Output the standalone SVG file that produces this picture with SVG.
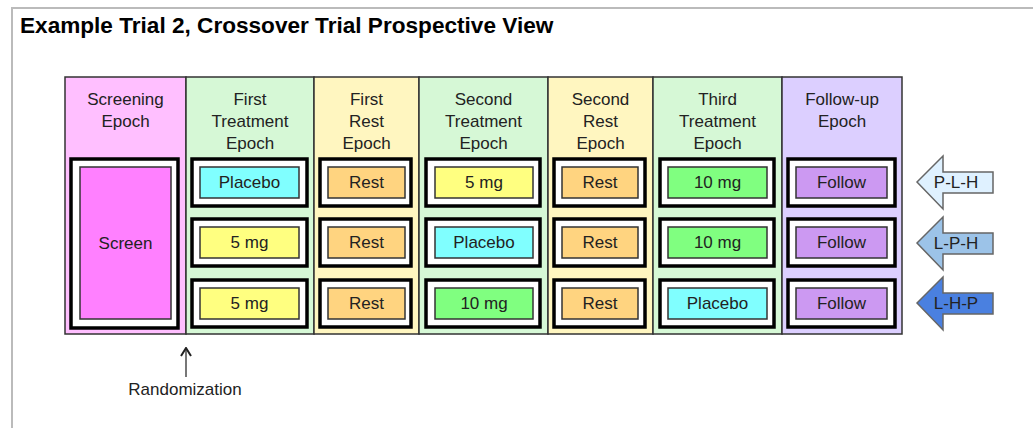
<svg xmlns="http://www.w3.org/2000/svg" width="1033" height="428" viewBox="0 0 1033 428">
<defs>
<style>
.t{font-family:"Liberation Sans",Arial,sans-serif;font-size:17px;fill:#222;text-anchor:middle}
.title{font-family:"Liberation Sans",Arial,sans-serif;font-size:22.6px;font-weight:bold;fill:#000}
.col{stroke:#333;stroke-width:1.5}
.ob{fill:#fff;stroke:#000;stroke-width:3.5}
.ib{stroke:#333;stroke-width:1.5}
.pl{fill:#80ffff}.m5{fill:#ffff80}.m10{fill:#80ff80}.rs{fill:#ffd480}.fw{fill:#cc99f2}
.ar{stroke:#666;stroke-width:1.5}
</style>
<marker id="ah" viewBox="0 0 10 12" refX="9" refY="6" markerWidth="10" markerHeight="12" markerUnits="userSpaceOnUse" orient="auto">
<path d="M1,1 L9,6 L1,11" fill="none" stroke="#222" stroke-width="2"/>
</marker>
</defs>
<rect width="1033" height="428" fill="#fff"/>
<path d="M12,428 V8 H1033" fill="none" stroke="#bbb" stroke-width="2"/>
<text class="title" x="20" y="33">Example Trial 2, Crossover Trial Prospective View</text>

<g id="columns">
<rect class="col" x="65" y="77" width="121" height="257" fill="#ffbfff"/>
<rect class="col" x="186" y="77" width="128" height="257" fill="#d6f8d6"/>
<rect class="col" x="314" y="77" width="105" height="257" fill="#fff6c0"/>
<rect class="col" x="419" y="77" width="129" height="257" fill="#d6f8d6"/>
<rect class="col" x="548" y="77" width="105" height="257" fill="#fff6c0"/>
<rect class="col" x="653" y="77" width="129" height="257" fill="#d6f8d6"/>
<rect class="col" x="782" y="77" width="120" height="257" fill="#dccfff"/>
</g>

<g id="headers">
<text class="t" x="125.5" y="105">Screening</text><text class="t" x="125.5" y="127">Epoch</text>
<text class="t" x="250" y="105">First</text><text class="t" x="250" y="127">Treatment</text><text class="t" x="250" y="149">Epoch</text>
<text class="t" x="366.5" y="105">First</text><text class="t" x="366.5" y="127">Rest</text><text class="t" x="366.5" y="149">Epoch</text>
<text class="t" x="483.5" y="105">Second</text><text class="t" x="483.5" y="127">Treatment</text><text class="t" x="483.5" y="149">Epoch</text>
<text class="t" x="600.5" y="105">Second</text><text class="t" x="600.5" y="127">Rest</text><text class="t" x="600.5" y="149">Epoch</text>
<text class="t" x="717.5" y="105">Third</text><text class="t" x="717.5" y="127">Treatment</text><text class="t" x="717.5" y="149">Epoch</text>
<text class="t" x="842" y="105">Follow-up</text><text class="t" x="842" y="127">Epoch</text>
</g>

<g id="screen">
<rect class="ob" x="71" y="159" width="107" height="169"/>
<rect class="ib" x="80" y="167" width="91" height="152" fill="#ff80ff"/>
<text class="t" x="125.5" y="249">Screen</text>
</g>

<g id="row1">
<g id="r1c1"><rect class="ob" x="192" y="159" width="115" height="47"/><rect class="ib pl" x="200" y="167" width="99" height="31"/><text class="t" x="249.5" y="188">Placebo</text></g>
<g id="r1c2"><rect class="ob" x="320" y="159" width="91" height="47"/><rect class="ib rs" x="328" y="167" width="77" height="31"/><text class="t" x="366.5" y="188">Rest</text></g>
<g id="r1c3"><rect class="ob" x="426" y="159" width="114" height="47"/><rect class="ib m5" x="435" y="167" width="98" height="31"/><text class="t" x="484" y="188">5 mg</text></g>
<g id="r1c4"><rect class="ob" x="554" y="159" width="91" height="47"/><rect class="ib rs" x="562" y="167" width="76" height="31"/><text class="t" x="600" y="188">Rest</text></g>
<g id="r1c5"><rect class="ob" x="660" y="159" width="114" height="47"/><rect class="ib m10" x="668" y="167" width="99" height="31"/><text class="t" x="717.5" y="188">10 mg</text></g>
<g id="r1c6"><rect class="ob" x="788" y="159" width="107" height="47"/><rect class="ib fw" x="796" y="167" width="91" height="31"/><text class="t" x="841.5" y="188">Follow</text></g>
</g>

<g id="row2">
<g id="r2c1"><rect class="ob" x="192" y="219" width="115" height="47"/><rect class="ib m5" x="200" y="227" width="99" height="31"/><text class="t" x="249.5" y="248">5 mg</text></g>
<g id="r2c2"><rect class="ob" x="320" y="219" width="91" height="47"/><rect class="ib rs" x="328" y="227" width="77" height="31"/><text class="t" x="366.5" y="248">Rest</text></g>
<g id="r2c3"><rect class="ob" x="426" y="219" width="114" height="47"/><rect class="ib pl" x="435" y="227" width="98" height="31"/><text class="t" x="484" y="248">Placebo</text></g>
<g id="r2c4"><rect class="ob" x="554" y="219" width="91" height="47"/><rect class="ib rs" x="562" y="227" width="76" height="31"/><text class="t" x="600" y="248">Rest</text></g>
<g id="r2c5"><rect class="ob" x="660" y="219" width="114" height="47"/><rect class="ib m10" x="668" y="227" width="99" height="31"/><text class="t" x="717.5" y="248">10 mg</text></g>
<g id="r2c6"><rect class="ob" x="788" y="219" width="107" height="47"/><rect class="ib fw" x="796" y="227" width="91" height="31"/><text class="t" x="841.5" y="248">Follow</text></g>
</g>

<g id="row3">
<g id="r3c1"><rect class="ob" x="192" y="280" width="115" height="47"/><rect class="ib m5" x="200" y="288" width="99" height="31"/><text class="t" x="249.5" y="309">5 mg</text></g>
<g id="r3c2"><rect class="ob" x="320" y="280" width="91" height="47"/><rect class="ib rs" x="328" y="288" width="77" height="31"/><text class="t" x="366.5" y="309">Rest</text></g>
<g id="r3c3"><rect class="ob" x="426" y="280" width="114" height="47"/><rect class="ib m10" x="435" y="288" width="98" height="31"/><text class="t" x="484" y="309">10 mg</text></g>
<g id="r3c4"><rect class="ob" x="554" y="280" width="91" height="47"/><rect class="ib rs" x="562" y="288" width="76" height="31"/><text class="t" x="600" y="309">Rest</text></g>
<g id="r3c5"><rect class="ob" x="660" y="280" width="114" height="47"/><rect class="ib pl" x="668" y="288" width="99" height="31"/><text class="t" x="717.5" y="309">Placebo</text></g>
<g id="r3c6"><rect class="ob" x="788" y="280" width="107" height="47"/><rect class="ib fw" x="796" y="288" width="91" height="31"/><text class="t" x="841.5" y="309">Follow</text></g>
</g>

<g id="arrows">
<g id="a1"><path class="ar" d="M917,182 L943,156 L943,172 L993,172 L993,193 L943,193 L943,209 Z" fill="#dff1ff"/><text class="t" x="956" y="188">P-L-H</text></g>
<g id="a2"><path class="ar" d="M917,243 L943,217 L943,233 L993,233 L993,254 L943,254 L943,270 Z" fill="#9cc3e8"/><text class="t" x="956" y="249">L-P-H</text></g>
<g id="a3"><path class="ar" d="M917,303 L943,277 L943,293 L993,293 L993,314 L943,314 L943,330 Z" fill="#4a80e0"/><text class="t" x="956" y="309">L-H-P</text></g>
</g>

<g id="connectors">
<line x1="186" y1="377" x2="186" y2="348" stroke="#777" stroke-width="2" marker-end="url(#ah)"/>
</g>
<text class="t" x="185" y="395">Randomization</text>
</svg>
